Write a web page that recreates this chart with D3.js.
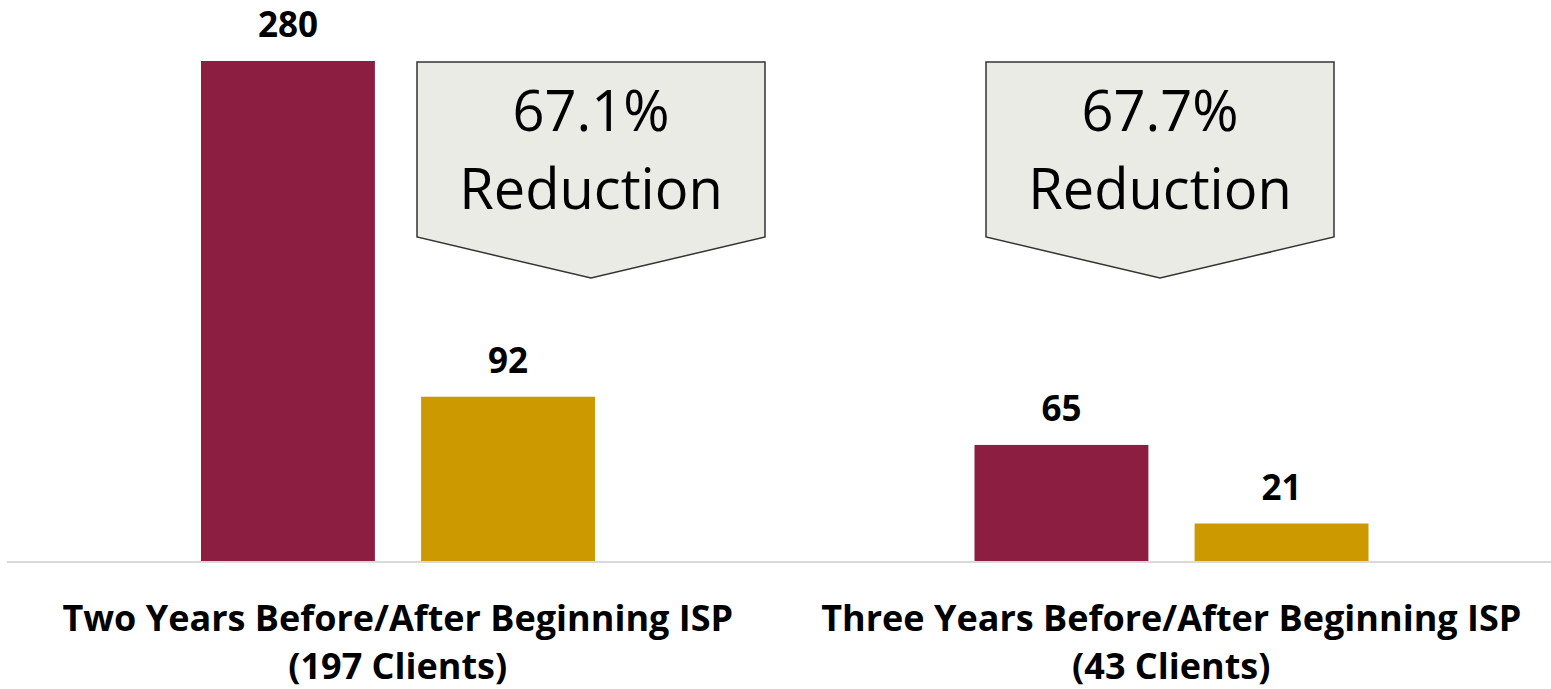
<!DOCTYPE html>
<html>
<head>
<meta charset="utf-8">
<script src="https://cdn.jsdelivr.net/npm/d3@7"></script>
<style>
  body { margin: 0; background: #fff; }
  text { font-family: 'Open Sans', 'Noto Sans', sans-serif; }
</style>
</head>
<body>
<div id="chart"></div>
<script>
// data
var categories = ['Two Years Before/After Beginning ISP', 'Three Years Before/After Beginning ISP'];
var clientLabels = ['(197 Clients)', '(43 Clients)'];
var seriesNames = ['Before', 'After'];
var beforeValues = [280, 65];
var afterValues = [92, 21];
var reductionLabels = ['67.1%', '67.7%'];

var width = 1551, height = 689;
var colors = { Before: '#8b1e41', After: '#cc9900' };

var svg = d3.select('#chart').append('svg')
    .attr('width', width)
    .attr('height', height);

var baseY = 561;

var x0 = d3.scaleBand()
    .domain(categories)
    .range([11, 1558]);

var x1 = d3.scaleBand()
    .domain(seriesNames)
    .range([190, 584])
    .paddingInner(0.21);

var y = d3.scaleLinear()
    .domain([0, 280])
    .range([baseY, 61]);

var rows = categories.map(function (c, i) {
    return { cat: c, values: [
        { key: 'Before', value: beforeValues[i] },
        { key: 'After', value: afterValues[i] }
    ]};
});

// baseline
svg.append('line')
    .attr('x1', 7).attr('x2', width)
    .attr('y1', baseY + 1).attr('y2', baseY + 1)
    .attr('stroke', '#d9d9d9')
    .attr('stroke-width', 2);

var groups = svg.selectAll('g.group')
    .data(rows)
    .enter().append('g')
    .attr('class', 'group')
    .attr('transform', function (d) { return 'translate(' + x0(d.cat) + ',0)'; });

groups.selectAll('rect')
    .data(function (d) { return d.values; })
    .enter().append('rect')
    .attr('x', function (d) { return x1(d.key); })
    .attr('y', function (d) { return y(d.value); })
    .attr('width', x1.bandwidth())
    .attr('height', function (d) { return baseY - y(d.value); })
    .attr('fill', function (d) { return colors[d.key]; });

groups.selectAll('text.val')
    .data(function (d) { return d.values; })
    .enter().append('text')
    .attr('class', 'val')
    .attr('x', function (d) { return x1(d.key) + x1.bandwidth() / 2; })
    .attr('y', function (d) { return y(d.value) - 24; })
    .attr('text-anchor', 'middle')
    .attr('font-size', 35)
    .attr('font-weight', 'bold')
    .attr('fill', '#000')
    .text(function (d) { return d.value; });

// category labels
groups.append('text')
    .attr('x', x0.bandwidth() / 2)
    .attr('y', 631)
    .attr('text-anchor', 'middle')
    .attr('font-size', 36)
    .attr('font-weight', 'bold')
    .text(function (d) { return d.cat; });

groups.append('text')
    .attr('x', x0.bandwidth() / 2)
    .attr('y', 679)
    .attr('text-anchor', 'middle')
    .attr('font-size', 36)
    .attr('font-weight', 'bold')
    .text(function (d, i) { return clientLabels[i]; });

// down-arrow callouts
var calloutCenters = [591, 1160];
var cw = 348, ctop = 62, cside = 237, ctip = 278;

calloutCenters.forEach(function (cx, i) {
    var g = svg.append('g');
    var pts = [
        [cx - cw / 2, ctop], [cx + cw / 2, ctop], [cx + cw / 2, cside],
        [cx, ctip], [cx - cw / 2, cside]
    ];
    g.append('path')
        .attr('d', d3.line()(pts) + 'Z')
        .attr('fill', '#ebebe6')
        .attr('stroke', '#333')
        .attr('stroke-width', 1.5);
    g.append('text')
        .attr('x', cx)
        .attr('y', 131)
        .attr('text-anchor', 'middle')
        .attr('font-size', 56)
        .attr('fill', '#000')
        .text(reductionLabels[i]);
    g.append('text')
        .attr('x', cx)
        .attr('y', 209)
        .attr('text-anchor', 'middle')
        .attr('font-size', 56)
        .attr('fill', '#000')
        .text('Reduction');
});
</script>
</body>
</html>
